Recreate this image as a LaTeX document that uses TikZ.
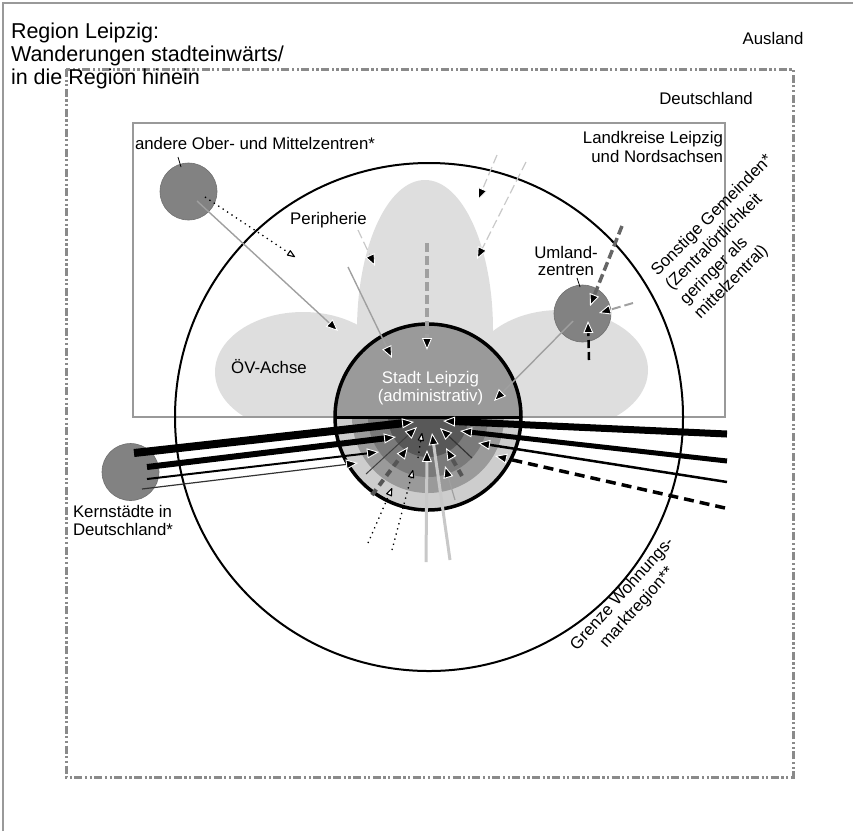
\documentclass[tikz,border=0pt]{standalone}
\usepackage{fontspec}
\setmainfont{Liberation Sans}
\usetikzlibrary{arrows.meta}
\definecolor{framegray}{HTML}{999999}
\definecolor{dframe}{HTML}{8A8A8A}
\definecolor{blobgray}{HTML}{DEDEDE}
\definecolor{cityup}{HTML}{9A9A9A}
\definecolor{ringA}{HTML}{CDCDCD}
\definecolor{ringB}{HTML}{9A9A9A}
\definecolor{ringC}{HTML}{7A7A7A}
\definecolor{ringD}{HTML}{585858}
\definecolor{towngray}{HTML}{828282}
\definecolor{towndraw}{HTML}{707070}
\definecolor{lgray}{HTML}{C8C8C8}
\definecolor{mgray}{HTML}{A0A0A0}
\definecolor{ddgray}{HTML}{555555}
\definecolor{dkgray}{HTML}{666666}
\begin{document}
\begin{tikzpicture}[x=1pt,y=-1pt,
  every node/.style={inner sep=0pt,outer sep=0pt},
  lab/.style={font=\fontsize{16.8}{18.3}\selectfont,text=black},
  blk/.style={-{Triangle[length=12pt,width=10pt,fill=black,color=white,line width=0.9pt]}},
  opn/.style={-{Triangle[length=9pt,width=6.5pt,round,fill=white,color=black,line width=1.1pt]}},
  townc/.style={circle,minimum size=57pt,fill=towngray,draw=towndraw,line width=0.6pt},
  dotline/.style={line width=1.3pt,dash pattern=on 1.3pt off 4pt},
  thindash/.style={lgray,line width=1.2pt,dash pattern=on 9pt off 4pt},
]
\useasboundingbox (0,0) rectangle (853,831);
% outer frame
\draw[framegray,line width=1.3pt] (3,831) -- (3,3) -- (853,3);
% Deutschland
\draw[dframe,line width=3pt,dash pattern=on 8pt off 2.5pt on 2.2pt off 2.5pt on 2.2pt off 2.5pt]
  (66,69) rectangle (793,777);
% light gray blob (Peripherie / OeV-Achse)
\begin{scope}
  \clip (133,123) rectangle (725,417);
  \fill[blobgray] (425,330) ellipse[x radius=68,y radius=150];
  \fill[blobgray] (303,372) ellipse[x radius=88,y radius=60];
  \fill[blobgray] (560,370) ellipse[x radius=88,y radius=60];
\end{scope}
% Landkreise box
\draw[framegray,line width=1.3pt] (133,123) rectangle (725,417);
% Grenze Wohnungsmarktregion
\draw[line width=2pt] (429,417) circle[radius=254];
% Stadt Leipzig
\coordinate (city) at (428,417);
\begin{scope}
  \clip (330,417) rectangle (530,515);
  \fill[ringA] (city) circle[radius=93];
  \fill[ringB] (city) circle[radius=76];
  \fill[ringC] (city) circle[radius=60];
  \fill[ringD] (city) circle[radius=40];
\end{scope}
\begin{scope}
  \clip (330,318) rectangle (530,417);
  \fill[cityup] (city) circle[radius=93];
\end{scope}
\draw[line width=3pt] (335,417) -- (521,417);
\draw[line width=3.5pt] (city) circle[radius=93];
% other towns
\node[townc] (ober) at (188.5,191.5) {};
\node[townc] (umland) at (582.5,313.5) {};
\node[townc] (kern) at (130.5,472) {};
% label ticks
\draw[line width=0.8pt] (178,157) -- (181,167);
\draw[line width=0.8pt] (577,278) -- (580,287);
% ---------- upper connectors
\coordinate (u1s) at (197,201); \coordinate (u1e) at (338,331);
\coordinate (u2s) at (205,197); \coordinate (u2e) at (295,257);
\coordinate (u3s) at (348,267); \coordinate (u3e) at (392,358);
\coordinate (u4s) at (358,230); \coordinate (u4e) at (375,266);
\coordinate (u5s) at (427,243); \coordinate (u5e) at (427,350);
\coordinate (u6s) at (497,155); \coordinate (u6e) at (478,200);
\coordinate (u7s) at (526,162); \coordinate (u7e) at (477,259);
\coordinate (u8s) at (573,321); \coordinate (u8e) at (494,401);
\coordinate (u9s) at (622,226); \coordinate (u9e) at (590,306);
\coordinate (u10s) at (633,303); \coordinate (u10e) at (599,313);
\coordinate (u11s) at (589,360); \coordinate (u11e) at (588,321);
\draw[blk,mgray,line width=1.4pt] (u1s) -- (u1e);
\draw[opn,dotline] (u2s) -- (u2e);
\draw[blk,mgray,line width=1.4pt] (u3s) -- (u3e);
\draw[blk,thindash] (u4s) -- (u4e);
\draw[blk,mgray,line width=3.5pt,dash pattern=on 9pt off 4pt] (u5s) -- (u5e);
\draw[blk,thindash] (u6s) -- (u6e);
\draw[blk,thindash] (u7s) -- (u7e);
\draw[blk,mgray,line width=1.4pt] (u8s) -- (u8e);
\draw[blk,dkgray,line width=3.5pt,dash pattern=on 9pt off 4pt] (u9s) -- (u9e);
\draw[blk,mgray,line width=2pt,dash pattern=on 9pt off 4pt] (u10s) -- (u10e);
\draw[blk,black,line width=2.5pt,dash pattern=on 8pt off 4pt] (u11s) -- (u11e);
% ---------- lower connectors: Kernstaedte
\coordinate (las) at (134,453); \coordinate (lae) at (414,422);
\coordinate (lbs) at (147,467); \coordinate (lbe) at (396,437);
\coordinate (lcs) at (147,479); \coordinate (lce) at (379,452);
\coordinate (lds) at (142,489); \coordinate (lde) at (358,463);
\draw[blk,line width=8pt] (las) -- (lae);
\draw[blk,line width=6pt] (lbs) -- (lbe);
\draw[blk,line width=2pt] (lcs) -- (lce);
\draw[blk,black!80,line width=1.2pt] (lds) -- (lde);
% Ausland (right)
\coordinate (res) at (727,434); \coordinate (ree) at (443,421);
\coordinate (rfs) at (727,461); \coordinate (rfe) at (460,431);
\coordinate (rgs) at (727,482); \coordinate (rge) at (478,443);
\coordinate (rhs) at (725,508); \coordinate (rhe) at (495,456);
\draw[blk,line width=7pt] (res) -- (ree);
\draw[blk,line width=5pt] (rfs) -- (rfe);
\draw[blk,line width=2.5pt] (rgs) -- (rge);
\draw[blk,line width=3.5pt,dash pattern=on 10pt off 6pt] (rhs) -- (rhe);
% inner connectors
\coordinate (i1s) at (368,543); \coordinate (i1e) at (392,488);
\coordinate (i2s) at (392,550); \coordinate (i2e) at (413,470);
\coordinate (i3s) at (418,458); \coordinate (i3e) at (422,433);
\coordinate (i4s) at (426,562); \coordinate (i4e) at (427,450);
\coordinate (i5s) at (450,560); \coordinate (i5e) at (432,433);
\coordinate (i6s) at (372,495); \coordinate (i6e) at (408,447);
\coordinate (i7s) at (462,476); \coordinate (i7e) at (446,448);
\coordinate (i8s) at (366,474); \coordinate (i8e) at (417,427);
\coordinate (i9s) at (472,458); \coordinate (i9e) at (440,428);
\coordinate (i10s) at (455,500); \coordinate (i10e) at (445,466);
\draw[blk,ddgray,line width=4pt,dash pattern=on 7pt off 5pt] (i6s) -- (i6e);
\draw[blk,ddgray,line width=4pt,dash pattern=on 7pt off 5pt] (i7s) -- (i7e);
\draw[blk,black!75,line width=1pt] (i8s) -- (i8e);
\draw[blk,black!80,line width=1.2pt] (i9s) -- (i9e);
\draw[blk,mgray,line width=1.2pt] (i10s) -- (i10e);
\draw[blk,lgray,line width=3pt] (i4s) -- (i4e);
\draw[blk,lgray,line width=3pt] (i5s) -- (i5e);
\draw[opn,dotline] (i1s) -- (i1e);
\draw[opn,dotline] (i2s) -- (i2e);
\draw[opn,dotline] (i3s) -- (i3e);
% ---------- texts
\node[anchor=north west,align=left,font=\fontsize{21.5}{23}\selectfont] (title) at (11,22.5)
  {Region Leipzig:\\Wanderungen stadteinwärts/\\in die Region hinein};
\node[lab,anchor=base] (ausland) at (773,44) {Ausland};
\node[lab,anchor=base] (deutschland) at (706,104) {Deutschland};
\node[lab,anchor=north east,align=right,font=\fontsize{16.8}{19}\selectfont] (landkreise) at (723,131.5)
  {Landkreise Leipzig\\und Nordsachsen};
\node[lab,anchor=base] (oberlab) at (255,149) {andere Ober- und Mittelzentren*};
\node[lab,anchor=base] (peri) at (328.5,224) {Peripherie};
\node[lab,anchor=base] (oev) at (269,373) {ÖV-Achse};
\node[lab,anchor=north,align=center,font=\fontsize{16.8}{17}\selectfont] (umlab) at (566,246)
  {Umland-\\zentren};
\node[lab,anchor=north,align=center,text=white] (stadtlab) at (430.5,371.5)
  {Stadt Leipzig\\(administrativ)};
\node[lab,anchor=north west,align=left] (kernlab) at (73,505)
  {Kernstädte in\\Deutschland*};
\node[lab,anchor=west,align=left,rotate=45,font=\fontsize{16.8}{20.3}\selectfont] (sonst) at (676,295)
  {Sonstige Gemeinden*\\(Zentralörtlichkeit\\geringer als\\mittelzentral)};
\node[lab,align=center,rotate=48,font=\fontsize{16.8}{20}\selectfont] (grenze) at (630,601)
  {Grenze Wohnungs-\\marktregion**};
\end{tikzpicture}
\end{document}
